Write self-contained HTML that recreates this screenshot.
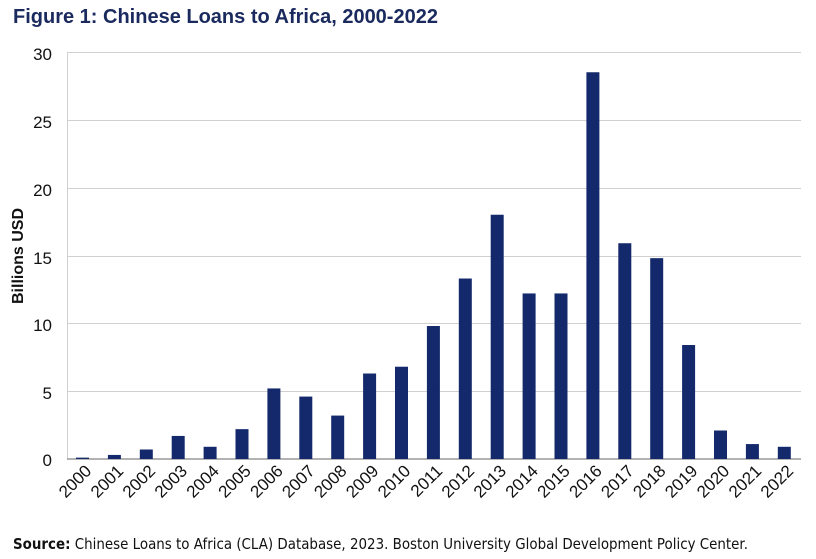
<!DOCTYPE html><html><head><style>body{margin:0;background:#fff}svg{display:block}</style></head><body>
<svg width="816" height="559" xmlns="http://www.w3.org/2000/svg" font-family="Liberation Sans, sans-serif">
<text x="13" y="23" font-size="20" font-weight="bold" fill="#1a2a5e">Figure 1: Chinese Loans to Africa, 2000-2022</text>
<g stroke="#d0d0d0" stroke-width="1">
<line x1="67" x2="801" y1="52.5" y2="52.5"/><line x1="67" x2="801" y1="120.5" y2="120.5"/><line x1="67" x2="801" y1="188.5" y2="188.5"/><line x1="67" x2="801" y1="256.5" y2="256.5"/><line x1="67" x2="801" y1="323.5" y2="323.5"/><line x1="67" x2="801" y1="391.5" y2="391.5"/>
<line x1="67.5" x2="67.5" y1="52" y2="459"/></g>
<line x1="67" x2="801" y1="459" y2="459" stroke="#999" stroke-width="1.5"/>
<g font-size="17" text-anchor="end" fill="#111">
<text x="52" y="60">30</text><text x="52" y="128">25</text><text x="52" y="196">20</text><text x="52" y="264">15</text><text x="52" y="331">10</text><text x="52" y="399">5</text><text x="52" y="466">0</text></g>
<text transform="translate(23,256) rotate(-90)" font-size="16" font-weight="bold" text-anchor="middle" fill="#111">Billions USD</text>
<g id="bars" fill="#13296b"></g>
<g id="lbl" font-size="17" fill="#111" text-anchor="end"></g>
<text x="13" y="549" font-size="15" fill="#111" font-family="DejaVu Sans, sans-serif" textLength="735" lengthAdjust="spacingAndGlyphs"><tspan font-weight="bold">Source:</tspan> Chinese Loans to Africa (CLA) Database, 2023. Boston University Global Development Policy Center.</text>
<script>
var v=[0.1,0.3,0.7,1.7,0.9,2.2,5.2,4.6,3.2,6.3,6.8,9.8,13.3,18,12.2,12.2,28.5,15.9,14.8,8.4,2.1,1.1,0.9];
var b=document.getElementById('bars'),l=document.getElementById('lbl'),ns='http://www.w3.org/2000/svg';
v.forEach(function(d,i){var c=82.5+i*31.9,h=d*13.57;
var r=document.createElementNS(ns,'rect');r.setAttribute('x',c-6.5);r.setAttribute('width',13);r.setAttribute('y',459-h);r.setAttribute('height',h);b.appendChild(r);
var t=document.createElementNS(ns,'text');t.setAttribute('transform','translate('+(c+10)+',472) rotate(-45)');t.textContent=2000+i;l.appendChild(t);});
</script>
</svg></body></html>
